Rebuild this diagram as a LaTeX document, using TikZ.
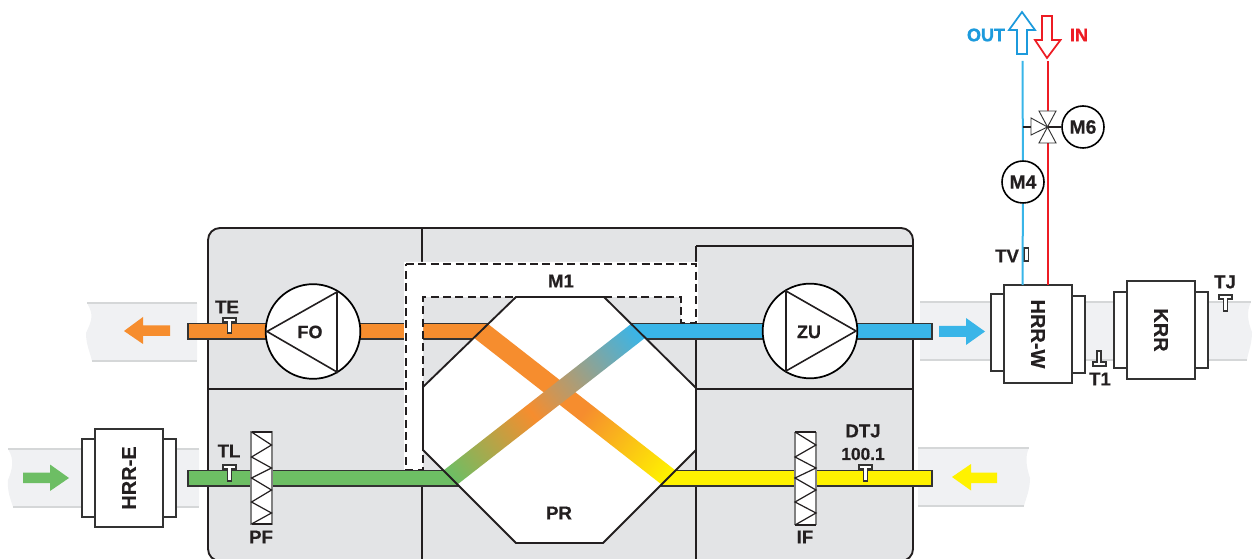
\documentclass[tikz,border=0pt]{standalone}
\usepackage{fontspec}
\setmainfont{Liberation Sans}[BoldFeatures={FakeBold=0.5}]
\newfontfamily\heavyfont{Liberation Sans}[BoldFeatures={FakeBold=1.5}]
\definecolor{cOrange}{HTML}{F68D2E}
\definecolor{cBlue}{HTML}{39B5E8}
\definecolor{cGreen}{HTML}{6DBE64}
\definecolor{cYellow}{HTML}{FFF200}
\definecolor{cRed}{HTML}{ED1C24}
\definecolor{cOutBlue}{HTML}{1C9ADC}
\definecolor{cCase}{HTML}{E3E4E6}
\definecolor{cPipe}{HTML}{F0F1F3}
\definecolor{cPipeLine}{HTML}{D5D7D8}
\definecolor{cInk}{HTML}{231F20}
\definecolor{cEdge}{HTML}{333333}
\pgfdeclarehorizontalshading{bandA}{14.7pt}{color(0pt)=(cOrange); color(103pt)=(cOrange); color(182pt)=(cYellow); color(187.5pt)=(cYellow)}
\pgfdeclarehorizontalshading{bandB}{14.7pt}{color(0pt)=(cGreen); color(5pt)=(cGreen); color(82pt)=(cOrange); color(182pt)=(cBlue); color(187.5pt)=(cBlue)}
\tikzset{
  px/.style={x=0.75pt,y=-0.75pt},
  lbl/.style={inner sep=0,font=\fontsize{14}{16}\selectfont\bfseries,text=cInk},
  heavylbl/.style={inner sep=0,font=\fontsize{13.5}{16}\heavyfont\selectfont\bfseries},
  biglbl/.style={inner sep=0,font=\fontsize{15}{17}\selectfont\bfseries,text=cInk},
  caseline/.style={draw=cInk,line width=1.4pt},
  duct/.style={draw=cEdge,line width=1.2pt},
  unit/.style={draw=cEdge,fill=white,line width=1.3pt,inner sep=0,minimum width=51pt,minimum height=73.5pt},
  flange/.style={draw=cEdge,fill=white,line width=1.3pt,inner sep=0,minimum width=9.75pt,minimum height=58pt},
  fan/.style={circle,draw=black,fill=white,line width=1.3pt,inner sep=0,minimum size=71pt},
  motor/.style={circle,draw=black,fill=white,line width=1.2pt,inner sep=0,minimum size=31.5pt,font=\fontsize{14.5}{16}\selectfont\bfseries,text=cInk},
  sens/.style={draw=cEdge,fill=white,line width=0.8pt},
  pipeedge/.style={draw=cPipeLine,line width=0.9pt},
  filterbox/.style={draw=gray,fill=white,line width=0.8pt,inner sep=0,minimum width=15.75pt,minimum height=69pt},
  zig/.style={draw=cInk,line width=0.9pt},
  flow/.style={fill=#1,draw=none},
  hollow/.style={draw=#1,fill=white,line width=1.3pt,line join=miter},
  waterpipe/.style={draw=#1,line width=1.5pt},
  dashline/.style={draw=cInk,line width=1.5pt,dash pattern=on 6pt off 3.3pt},
}
\begin{document}
\begin{tikzpicture}[px]
\useasboundingbox (0,0) rectangle (1253,559);
% outer grey ducts
\fill[cPipe] (87,303) .. controls (94,315) and (92,320) .. (86,333) .. controls (86,345) and (90,352) .. (92,361) -- (197,361) -- (197,303) -- cycle;
\draw[pipeedge] (87,303) -- (197,303);
\draw[pipeedge] (92,361) -- (197,361);
\fill[cPipe] (8,449) .. controls (15,460) and (12,470) .. (8,480) .. controls (7,492) and (11,500) .. (13,507) -- (199,507) -- (199,449) -- cycle;
\draw[pipeedge] (8,449) -- (199,449);
\draw[pipeedge] (13,507) -- (199,507);
\fill[cPipe] (920,302) -- (1251,302) .. controls (1246,312) and (1248,322) .. (1252,332) .. controls (1252,345) and (1248,352) .. (1247,360) -- (920,360) -- cycle;
\draw[pipeedge] (920,302) -- (1251,302);
\draw[pipeedge] (920,360) -- (1247,360);
\fill[cPipe] (918,448) -- (1029,448) .. controls (1025,456) and (1026,466) .. (1030,478) .. controls (1030,490) and (1026,498) .. (1024,506) -- (918,506) -- cycle;
\draw[pipeedge] (918,448) -- (1029,448);
\draw[pipeedge] (918,506) -- (1024,506);
% casing
\draw[caseline,fill=cCase,rounded corners=9pt] (208,228) rectangle (913,561);
\draw[caseline] (422,228) -- (422,265);
\draw[caseline] (422,470) -- (422,559);
\draw[caseline] (696,246) -- (696,559);
\draw[caseline] (696,246) -- (913,246);
\draw[caseline] (208,389) -- (406,389);
\draw[caseline] (696,389) -- (913,389);
% ducts
\draw[duct,fill=cOrange] (188,323.5) rectangle (500,339);
\draw[duct,fill=cBlue] (620,323.5) rectangle (932,339);
% M1 channel
\fill[white] (404,262) -- (698,262) -- (698,323) -- (681,323) -- (681,297) -- (423,297) -- (423,470) -- (404,470) -- cycle;
\draw[dashline] (406,264) -- (696,264) -- (696,323) -- (681,323) -- (681,297) -- (423,297) -- (423,470) -- (406,470) -- cycle;
\draw[duct,fill=cGreen] (188,470.5) rectangle (470,486);
\draw[duct,fill=cYellow] (650,470.5) rectangle (932,486);
% exchanger
\fill[white] (516,297) -- (604,297) -- (696,388) -- (696,450) -- (603,543) -- (516,543) -- (423,450) -- (423,387) -- cycle;
\begin{scope}
\clip (516,297) -- (604,297) -- (696,388) -- (696,450) -- (603,543) -- (516,543) -- (423,450) -- (423,387) -- cycle;
\node[inner sep=0,rotate=-38] (bandOne) at (574.5,404) {\pgfuseshading{bandA}};
\node[inner sep=0,rotate=38] (bandTwo) at (544.5,404) {\pgfuseshading{bandB}};
\end{scope}
\draw[caseline,line join=miter] (516,297) -- (604,297) -- (696,388) -- (696,450) -- (603,543) -- (516,543) -- (423,450) -- (423,387) -- cycle;
% fans
\node[fan] (fo) at (313,331.5) {};
\draw[line width=1.2pt,draw=cInk,line join=miter] (267,331.5) -- (337,292) -- (337,372) -- cycle;
\node[lbl,font=\fontsize{13.5}{15}\selectfont\bfseries] (folbl) at (310,332) {FO};
\node[fan] (zu) at (810,331) {};
\draw[line width=1.2pt,draw=cInk,line join=miter] (856,331) -- (786,291) -- (786,371) -- cycle;
\node[lbl,font=\fontsize{13.5}{15}\selectfont\bfseries] (zulbl) at (809,332) {ZU};
% flow arrows
\path[flow=cOrange] (124,331) -- (143,317) -- (143,325.5) -- (170,325.5) -- (170,336) -- (143,336) -- (143,344) -- cycle;
\path[flow=cBlue] (985,331.5) -- (966,318) -- (966,326) -- (939,326) -- (939,337) -- (966,337) -- (966,345) -- cycle;
\path[flow=cGreen] (69,478) -- (50,464.5) -- (50,472.5) -- (23,472.5) -- (23,483) -- (50,483) -- (50,491) -- cycle;
\path[flow=cYellow] (952,477) -- (971,464) -- (971,472.5) -- (997,472.5) -- (997,483) -- (971,483) -- (971,490.5) -- cycle;
% coil units
\node[flange,minimum height=58pt] (heL) at (88.5,478) {};
\node[flange,minimum height=58pt] (heR) at (169.5,478) {};
\node[unit] (hrre) at (129,478) {};
\node[biglbl,rotate=90] (hrrelbl) at (129,478) {HRR-E};
\node[flange,minimum height=58pt] (hwL) at (997.5,332.5) {};
\node[flange,minimum height=58pt] (hwR) at (1078.5,334.5) {};
\node[unit] (hrrw) at (1038,334) {};
\node[biglbl,rotate=-90] (hrrwlbl) at (1038,334) {HRR-W};
\node[flange,minimum height=57pt] (krL) at (1120.5,330) {};
\node[flange,minimum height=57pt] (krR) at (1201.5,330) {};
\node[unit,minimum height=73.5pt] (krr) at (1161,330) {};
\node[biglbl,rotate=-90] (krrlbl) at (1161,330) {KRR};
% filters
\node[filterbox] (pf) at (261.5,478) {};
\draw[zig] (251.5,432) -- (271.5,432);
\draw[zig] (251.5,524) -- (271.5,524);
\draw[zig] (251.5,432) -- (271.5,445) -- (251.5,457) -- (271.5,468) -- (251.5,478) -- (271.5,490) -- (251.5,502) -- (271.5,513) -- (251.5,524);
\node[filterbox] (if) at (805.5,478.5) {};
\draw[zig] (795,432) -- (816,432);
\draw[zig] (795,525) -- (816,525);
\draw[zig] (795,432) -- (816,445) -- (795,457) -- (816,468) -- (795,478) -- (816,490) -- (795,502) -- (816,513) -- (795,525);
% sensors
\path[sens] (223,318) -- (236,318) -- (236,322) -- (231.5,322) -- (231.5,333) -- (227.5,333) -- (227.5,322) -- (223,322) -- cycle;
\path[sens] (223,465) -- (236,465) -- (236,469) -- (231.5,469) -- (231.5,481) -- (227.5,481) -- (227.5,469) -- (223,469) -- cycle;
\path[sens] (859,465) -- (872,465) -- (872,469) -- (867.5,469) -- (867.5,481) -- (863.5,481) -- (863.5,469) -- (859,469) -- cycle;
\path[sens] (1219,295) -- (1232,295) -- (1232,299) -- (1227.5,299) -- (1227.5,311) -- (1223.5,311) -- (1223.5,299) -- (1219,299) -- cycle;
\path[sens] (1097,351) -- (1101,351) -- (1101,362) -- (1106,362) -- (1106,366) -- (1093,366) -- (1093,362) -- (1097,362) -- cycle;
\path[sens] (1024,248) rectangle (1028.5,261);
% hydronic circuit
\coordinate (bluetop) at (1022.5,61);
\coordinate (redtop) at (1047.5,61);
\coordinate (valve) at (1047.5,127);
\coordinate (tee) at (1022.5,127);
\coordinate (bluebot) at (1022.5,285);
\coordinate (redbot) at (1047.5,285);
\node[motor] (mfour) at (1023,182) {M4};
\node[motor] (msix) at (1083,127) {M6};
\draw[waterpipe=cBlue] (bluetop) -- (mfour);
\draw[waterpipe=cBlue] (mfour) -- (bluebot);
\draw[waterpipe=cRed] (redtop) -- (valve);
\draw[waterpipe=cRed] (valve) -- (redbot);
\draw[line width=1.3pt,draw=cInk] (tee) -- (valve) -- (msix);
\path[draw=cEdge,fill=white,line width=0.7pt,line join=miter] (valve) -- (1039,111) -- (1056,111) -- cycle;
\path[draw=cEdge,fill=white,line width=0.7pt,line join=miter] (valve) -- (1039,143) -- (1056,143) -- cycle;
\path[draw=cEdge,fill=white,line width=0.7pt,line join=miter] (valve) -- (1031,118) -- (1031,135) -- cycle;
% in/out arrows
\path[hollow=cOutBlue] (1022,12) -- (1035,30) -- (1027,30) -- (1027,54) -- (1017,54) -- (1017,30) -- (1009,30) -- cycle;
\path[hollow=cRed] (1047,58) -- (1060.5,40) -- (1052,40) -- (1052,16) -- (1042,16) -- (1042,40) -- (1035,40) -- cycle;
% labels
\node[heavylbl,text=cOutBlue] (outlbl) at (986,35) {OUT};
\node[heavylbl,text=cRed] (inlbl) at (1079,35) {IN};
\node[lbl] (telbl) at (227,307) {TE};
\node[lbl] (tllbl) at (229,451) {TL};
\node[lbl] (pflbl) at (261,537) {PF};
\node[lbl] (iflbl) at (805,537) {IF};
\node[lbl] (dtjlbl) at (863,431) {DTJ};
\node[lbl,font=\fontsize{13}{15}\selectfont\bfseries] (dtjval) at (863,454) {100.1};
\node[lbl] (tvlbl) at (1007,256) {TV};
\node[lbl] (tonelbl) at (1100,379) {T1};
\node[lbl] (tjlbl) at (1225,282) {TJ};
\node[lbl] (mone) at (561,281) {M1};
\node[lbl] (pr) at (559,513) {PR};
\end{tikzpicture}
\end{document}
